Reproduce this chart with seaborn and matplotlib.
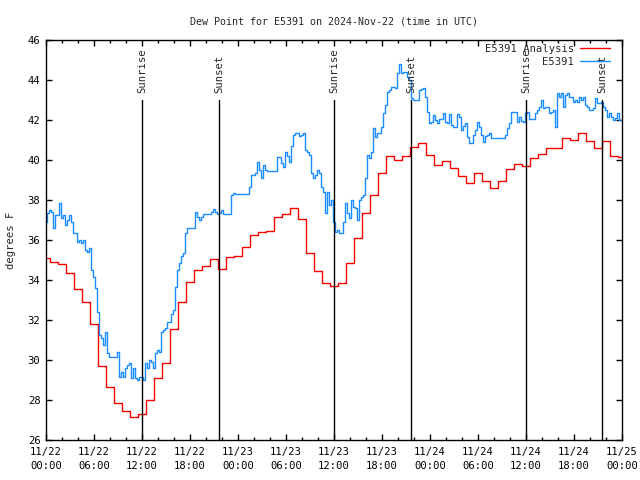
import pandas as pd
import seaborn as sns
import matplotlib
matplotlib.use("Agg")
import matplotlib.pyplot as plt
import matplotlib.dates as mdates

# Data
start = "2024-11-22 00:00"
end = "2024-11-25 00:00"

# hourly analysis values, 11/22 00:00 .. 11/25 00:00
analysis_dewpt = [
    35.08, 34.88, 34.78, 34.33, 33.53, 32.88, 31.8, 29.7, 28.63, 27.83, 27.45, 27.15,
    27.28, 28.0, 29.08, 29.87, 31.53, 32.92, 33.92, 34.5, 34.68, 35.05, 34.55, 35.13,
    35.22, 35.63, 36.25, 36.38, 36.45, 37.13, 37.32, 37.58, 37.03, 35.37, 34.47, 33.83,
    33.7, 33.83, 34.83, 36.12, 37.33, 38.25, 39.37, 40.2, 40.0, 40.2, 40.65, 40.87,
    40.27, 39.75, 39.93, 39.62, 39.18, 38.83, 39.33, 38.95, 38.6, 38.97, 39.53, 39.82,
    39.68, 40.1, 40.3, 40.58, 40.58, 41.08, 41.0, 41.33, 40.95, 40.58, 40.95, 40.18,
    40.15,
]

# station obs every 15 minutes
station_part1 = [  # 11/22 00:00 - 12:00
    36.92, 37.33, 37.5, 37.42, 36.58, 37.25, 37.25, 37.83, 37.08, 37.25, 36.75, 37.0,
    37.25, 36.92, 36.33, 36.33, 35.92, 36.0, 35.83, 36.0, 35.5, 35.42, 35.58, 34.5,
    34.17, 33.58, 32.42, 31.25, 31.08, 30.75, 31.42, 30.33, 30.17, 30.17, 30.17, 30.17,
    30.42, 29.17, 29.42, 29.17, 29.58, 29.75, 29.83, 29.08, 29.58, 29.08, 29.0, 29.17,
    29.17,
]
station_part2 = [  # 11/22 12:15 - 11/23 00:00
    29.0, 29.83, 29.58, 30.0, 29.92, 29.58, 30.33, 30.5, 30.42, 31.42, 31.5, 31.58,
    31.92, 31.92, 32.3, 32.5, 33.67, 34.5, 34.83, 35.2, 35.33, 36.33, 36.58, 36.58,
    36.58, 36.58, 37.42, 37.17, 37.0, 37.17, 37.3, 37.3, 37.3, 37.3, 37.42, 37.53,
    37.42, 37.3, 37.37, 37.5, 37.3, 37.3, 37.3, 37.3, 38.25, 38.33, 38.3, 38.3,
]
station_part3 = [  # 11/23 00:15 - 12:00
    38.3, 38.3, 38.3, 38.3, 38.3, 38.67, 39.25, 39.25, 39.33, 39.92, 39.5, 39.08,
    39.75, 39.5, 39.47, 39.47, 39.47, 39.47, 39.47, 40.17, 40.17, 39.87, 39.67, 40.42,
    40.2, 39.92, 40.7, 41.25, 41.37, 41.33, 41.2, 41.25, 41.33, 40.5, 40.42, 40.25,
    39.33, 39.08, 39.25, 39.5, 39.33, 38.67, 38.42, 37.33, 38.42, 37.75, 38.0, 36.9,
]
station_part4 = [  # 11/23 12:15 - 11/24 00:00
    36.42, 36.5, 36.33, 36.33, 36.92, 37.83, 37.33, 37.08, 38.0, 37.67, 37.58, 37.0,
    38.0, 38.17, 38.25, 39.08, 40.25, 40.08, 40.42, 41.58, 41.17, 41.33, 41.33, 41.67,
    42.33, 42.75, 43.42, 43.5, 43.67, 43.67, 43.58, 44.33, 44.78, 44.33, 44.42, 44.42,
    44.17, 44.0, 43.08, 43.0, 43.0, 43.0, 43.5, 43.53, 43.58, 43.17, 42.42, 41.83,
]
station_part5 = [  # 11/24 00:15 - 12:00
    41.92, 42.25, 42.0, 41.83, 42.03, 42.03, 42.37, 41.92, 41.83, 42.28, 41.75, 41.67,
    41.67, 42.28, 42.17, 41.5, 41.7, 41.87, 41.17, 40.83, 40.83, 41.25, 41.5, 41.92,
    41.67, 41.25, 40.92, 41.2, 41.25, 41.37, 41.08, 41.08, 41.08, 41.08, 41.08, 41.08,
    41.08, 41.25, 41.58, 41.83, 42.42, 42.42, 42.42, 41.92, 42.17, 41.97, 41.92, 42.33,
]
station_part6 = [  # 11/24 12:15 - 11/25 00:00
    42.42, 42.03, 42.03, 42.03, 42.33, 42.5, 42.67, 43.0, 42.58, 42.67, 42.67, 42.33,
    42.42, 42.5, 41.67, 43.33, 43.17, 43.33, 42.67, 43.25, 43.33, 43.17, 43.17, 42.92,
    43.0, 42.92, 43.17, 43.0, 43.17, 42.75, 42.67, 42.5, 42.5, 42.58, 43.08, 42.83,
    42.83, 42.92, 42.67, 42.5, 42.17, 42.33, 42.17, 42.0, 42.08, 42.33, 42.0, 42.0,
]

sunrise_times = ["2024-11-22 12:02", "2024-11-23 12:02", "2024-11-24 12:00"]
sunset_times = ["2024-11-22 21:40", "2024-11-23 21:40", "2024-11-24 21:33"]

station_dewpt = (station_part1 + station_part2 + station_part3
                 + station_part4 + station_part5 + station_part6)
analysis_time = pd.date_range(start, periods=len(analysis_dewpt), freq="h")
station_time = pd.date_range(start, periods=len(station_dewpt), freq="15min")

# Styling
sns.set_style("ticks")
plt.rcParams["font.family"] = ["DejaVu Sans Mono"]
fs = 7.6

fig = plt.figure(figsize=(6.4, 4.8), dpi=100)
ax = fig.add_axes([46 / 640, 40 / 480, 576 / 640, 400 / 480])

sns.lineplot(x=analysis_time, y=analysis_dewpt, ax=ax, color="#ff0000",
             lw=1.0, drawstyle="steps-mid", label="E5391 Analysis")
sns.lineplot(x=station_time, y=station_dewpt, ax=ax, color="#1a8cff",
             lw=1.0, drawstyle="steps-mid", label="E5391")

# sunrise / sunset markers
for t in sunrise_times:
    ax.axvline(pd.Timestamp(t), ymax=0.85, color="black", lw=1.0)
    ax.text(pd.Timestamp(t), 43.35, "Sunrise", rotation=90, ha="center",
            va="bottom", fontsize=fs)
for t in sunset_times:
    ax.axvline(pd.Timestamp(t), ymax=0.85, color="black", lw=1.0)
    ax.text(pd.Timestamp(t), 43.35, "Sunset", rotation=90, ha="center",
            va="bottom", fontsize=fs)

ax.set_xlim(pd.Timestamp(start), pd.Timestamp(end))
ax.set_ylim(26, 46)
ax.set_yticks(range(26, 47, 2))
ax.xaxis.set_major_locator(mdates.HourLocator(byhour=[0, 6, 12, 18]))
ax.xaxis.set_minor_locator(mdates.HourLocator(byhour=range(0, 24, 2)))
ax.xaxis.set_major_formatter(mdates.DateFormatter("%m/%d\n%H:%M"))

ax.tick_params(axis="both", which="both", direction="in", top=True, right=True,
               colors="black", labelsize=fs, width=1.0)
ax.tick_params(axis="x", which="major", length=4, pad=5)
ax.tick_params(axis="x", which="minor", length=2.5)
ax.tick_params(axis="y", which="major", length=4, pad=4)
for lab in ax.get_xticklabels():
    lab.set_linespacing(1.45)

for sp in ax.spines.values():
    sp.set_color("black")
    sp.set_linewidth(1.0)

ax.set_title("Dew Point for E5391 on 2024-Nov-22 (time in UTC)", fontsize=7.2, pad=11)
ax.set_xlabel("")
ax.set_ylabel("degrees F", fontsize=fs)
ax.yaxis.set_label_coords(-0.052, 0.5)

ax.legend(loc="upper right", bbox_to_anchor=(0.979, 0.99), markerfirst=False,
          frameon=False, handlelength=2.8, handletextpad=0.6, labelspacing=0.3,
          borderpad=0, borderaxespad=0, fontsize=fs)

fig.savefig("out.png", dpi=100)
